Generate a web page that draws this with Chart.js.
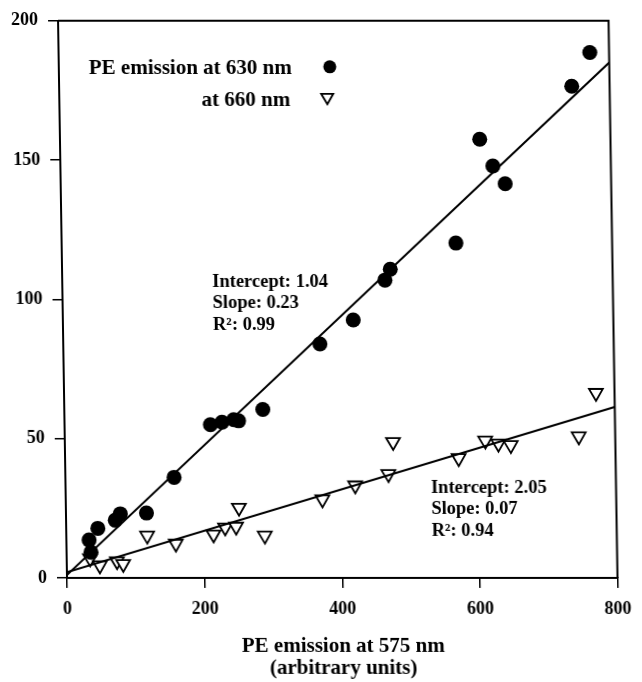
<!DOCTYPE html>
<html>
<head>
<meta charset="utf-8">
<script src="https://cdn.jsdelivr.net/npm/chart.js@4.4.0/dist/chart.umd.min.js"></script>
<style>
  html, body { margin: 0; padding: 0; background: #fff; }
  /* the scanned figure leans a little: its left/right frame edges are slanted */
  #chart { display: block; transform: skewX(0.92deg); transform-origin: 0 578px; }
</style>
</head>
<body>
<canvas id="chart" width="642" height="682"></canvas>
<script>
// PE emission at 575 nm (x) against the emission at 630 nm and at 660 nm (y)
const x630 = [33, 35.5, 46, 71.5, 79, 117, 158, 212, 229, 246, 253, 288.5, 373, 422, 469, 477, 573, 610, 628.5, 646, 745, 772];
const y630 = [13.6, 9.2, 17.8, 20.7, 23, 23.3, 36.1, 55, 55.9, 56.8, 56.4, 60.5, 84, 92.6, 106.9, 110.8, 120.2, 157.5, 147.9, 141.5, 176.5, 188.6];
const x660 = [34, 48, 73, 82, 117.5, 159, 214, 231, 247, 251.5, 288.5, 373, 421, 469.5, 477, 572, 611, 630, 648, 747, 773];
const y660 = [7, 4.5, 6, 5, 15.2, 12.3, 15.6, 18.1, 18.4, 25.2, 15.2, 28.2, 33.2, 37.3, 48.8, 43, 49.3, 48.2, 47.7, 50.8, 66.4];

// regression lines, ends at x = 0 and x = 800
const fitX = [0, 800];
const fit630 = [1.04, 185];
const fit660 = [2.05, 61.4];

const xTicks = [0, 200, 400, 600, 800];
const yTicks = [0, 50, 100, 150, 200];

const legendLabels = ['PE emission at 630 nm', 'at 660 nm'];
const stats630 = ['Intercept: 1.04', 'Slope: 0.23', 'R\u00b2: 0.99'];
const stats660 = ['Intercept: 2.05', 'Slope: 0.07', 'R\u00b2: 0.94'];

const serif = "'Liberation Serif', 'Times New Roman', serif";

const toPoints = (xs, ys) => xs.map((v, i) => ({x: v, y: ys[i]}));

const drawTriangle = (ctx, cx, cy, r) => {
    // pointing down
    ctx.beginPath();
    ctx.moveTo(cx, cy + r);
    ctx.lineTo(cx - r * 0.866, cy - r / 2);
    ctx.lineTo(cx + r * 0.866, cy - r / 2);
    ctx.closePath();
    ctx.fillStyle = '#fff';
    ctx.fill();
    ctx.stroke();
};

const decor = {
    id: 'decor',
    afterDraw(chart) {
        const {ctx, chartArea: a, scales: {x, y}} = chart;
        ctx.save();
        ctx.strokeStyle = '#000';
        ctx.lineWidth = 2;
        ctx.beginPath();
        ctx.moveTo(a.left, a.top);
        ctx.lineTo(a.right, a.top);
        ctx.lineTo(a.right, a.bottom);
        ctx.stroke();

        // legend, markers on the right of the text
        ctx.fillStyle = '#000';
        ctx.font = 'bold 21px ' + serif;
        ctx.textAlign = 'right';
        ctx.textBaseline = 'middle';
        ctx.fillText(legendLabels[0], a.left + 233, a.top + 48);
        ctx.fillText(legendLabels[1], a.left + 231, a.top + 80);
        ctx.beginPath();
        ctx.arc(a.left + 271, a.top + 46, 6.5, 0, Math.PI * 2);
        ctx.fill();
        ctx.lineWidth = 1.8;
        drawTriangle(ctx, a.left + 268, a.top + 76.5, 7);

        // fit statistics
        ctx.fillStyle = '#000';
        ctx.font = 'bold 18.5px ' + serif;
        ctx.textAlign = 'left';
        stats630.forEach((t, i) => {
            ctx.fillText(t, x.getPixelForValue(218), y.getPixelForValue(106.2) + i * 21.5);
        });
        stats660.forEach((t, i) => {
            ctx.fillText(t, x.getPixelForValue(531), y.getPixelForValue(32.3) + i * 21.5);
        });
        ctx.restore();
    }
};

new Chart(document.getElementById('chart'), {
    data: {
        datasets: [{
            type: 'line',
            data: toPoints(fitX, fit630),
            borderColor: '#000',
            borderWidth: 2,
            pointRadius: 0,
            order: 0
        }, {
            type: 'line',
            data: toPoints(fitX, fit660),
            borderColor: '#000',
            borderWidth: 2,
            pointRadius: 0,
            order: 0
        }, {
            type: 'scatter',
            label: legendLabels[0],
            data: toPoints(x630, y630),
            pointStyle: 'circle',
            pointRadius: 7.5,
            backgroundColor: '#000',
            borderColor: '#000',
            borderWidth: 0,
            order: 1
        }, {
            type: 'scatter',
            label: legendLabels[1],
            data: toPoints(x660, y660),
            pointStyle: 'triangle',
            rotation: 180,
            pointRadius: 8,
            backgroundColor: '#fff',
            borderColor: '#000',
            borderWidth: 1.8,
            order: 1
        }]
    },
    options: {
        responsive: false,
        animation: false,
        layout: {padding: {top: 19, right: 17, left: 0, bottom: 0}},
        plugins: {
            legend: {display: false},
            tooltip: {enabled: false}
        },
        scales: {
            x: {
                type: 'linear',
                min: 0,
                max: 800,
                afterBuildTicks: s => { s.ticks = xTicks.map(v => ({value: v})); },
                afterFit: s => { s.height = 104; },
                grid: {drawOnChartArea: false, tickLength: 10, color: '#000', lineWidth: 1.5},
                border: {color: '#000', width: 2},
                ticks: {color: '#000', padding: 11, font: {family: serif, size: 18, weight: 'bold'}},
                title: {
                    display: true,
                    text: ['PE emission at 575 nm', '(arbitrary units)'],
                    color: '#000',
                    font: {family: serif, size: 21, weight: 'bold', lineHeight: 1.05},
                    padding: {top: 4, bottom: 2}
                }
            },
            y: {
                type: 'linear',
                min: 0,
                max: 200,
                afterBuildTicks: s => { s.ticks = yTicks.map(v => ({value: v})); },
                afterFit: s => { s.width = 67; },
                grid: {drawOnChartArea: false, tickLength: 10, color: '#000', lineWidth: 1.5},
                border: {color: '#000', width: 2},
                ticks: {color: '#000', padding: 10, font: {family: serif, size: 18, weight: 'bold'}}
            }
        }
    },
    plugins: [decor]
});
</script>
</body>
</html>
